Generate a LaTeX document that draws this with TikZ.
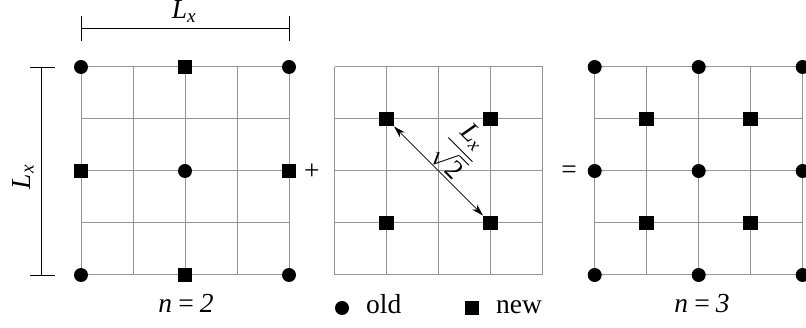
\documentclass[tikz,border=0pt]{standalone}
\usepackage{fontspec}
\setmainfont{Liberation Serif}
\usepackage{amsmath}
\usetikzlibrary{arrows.meta}
\begin{document}
\begin{tikzpicture}[x=1pt,y=-1pt,
  gridline/.style={draw=black!42, line width=1pt},
  olddot/.style={circle, fill=black, inner sep=0pt, minimum size=14pt},
  newsq/.style={rectangle, fill=black, inner sep=0pt, minimum size=14.5pt},
  dimline/.style={draw=black, line width=0.9pt},
  lbl/.style={font=\fontsize{27.5}{32}\selectfont, inner sep=0pt},
  arr/.style={draw=black, line width=0.7pt, {Stealth[length=12pt,width=7pt]}-{Stealth[length=12pt,width=7pt]}}
]
\useasboundingbox (0,0) rectangle (806,328);
% grids
\foreach \gx in {81,334.5,594.7}{
  \foreach \i in {0,...,4}{
    \draw[gridline] (\gx+52*\i,67) -- (\gx+52*\i,275);
    \draw[gridline] (\gx,67+52*\i) -- (\gx+208,67+52*\i);
  }
}
% grid 1
\node[olddot] (a00) at (81,67) {};
\node[olddot] (a40) at (289,67) {};
\node[olddot] (a04) at (81,275) {};
\node[olddot] (a44) at (289,275) {};
\node[olddot] (a22) at (185,171) {};
\node[newsq] (b20) at (185,67) {};
\node[newsq] (b02) at (81,171) {};
\node[newsq] (b42) at (289,171) {};
\node[newsq] (b24) at (185,275) {};
% grid 2
\node[newsq] (c11) at (386.5,119) {};
\node[newsq] (c31) at (490.5,119) {};
\node[newsq] (c13) at (386.5,223) {};
\node[newsq] (c33) at (490.5,223) {};
\draw[arr] (c11.south east) -- (c33.north west);
\node[inner sep=0pt, font=\fontsize{27}{32}\selectfont, rotate=-45] (frac) at (460,150) {$\dfrac{\textit{L}_{\textit{x}}}{\sqrt{\textup{2}}}$};
% grid 3
\foreach \i in {0,2,4}{
  \foreach \j in {0,2,4}{
    \node[olddot] (d\i\j) at (594.7+52*\i,67+52*\j) {};
  }
}
\foreach \i in {1,3}{
  \foreach \j in {1,3}{
    \node[newsq] (e\i\j) at (594.7+52*\i,67+52*\j) {};
  }
}
% dimension bars
\coordinate (t1) at (81,28);
\coordinate (t2) at (289,28);
\draw[dimline] (t1) -- (t2);
\draw[dimline] (81,16) -- (81,41);
\draw[dimline] (289,16) -- (289,41);
\node[lbl, anchor=base] (lxtop) at (184,19) {\textit{L}\textsubscript{\textit{x}}};
\coordinate (s1) at (41.7,67);
\coordinate (s2) at (41.7,275);
\draw[dimline] (s1) -- (s2);
\draw[dimline] (29.5,67) -- (54.5,67);
\draw[dimline] (29.5,275) -- (54.5,275);
\node[lbl, anchor=base, rotate=90] (lxleft) at (30,177) {\textit{L}\textsubscript{\textit{x}}};
% operators
\node[lbl] (plus) at (312,172) {+};
\node[lbl] (eq) at (569,172) {=};
% bottom labels
\node[lbl, anchor=base] (n2) at (186,313) {\textit{n\,=\,2}};
\node[lbl, anchor=base] (n3) at (702,313) {\textit{n\,=\,3}};
\node[olddot] (legdot) at (342,308) {};
\node[lbl, anchor=base west] (old) at (366,314) {old};
\node[newsq, minimum size=14pt] (legsq) at (472,308) {};
\node[lbl, anchor=base west] (new) at (496,314) {new};
\end{tikzpicture}
\end{document}
